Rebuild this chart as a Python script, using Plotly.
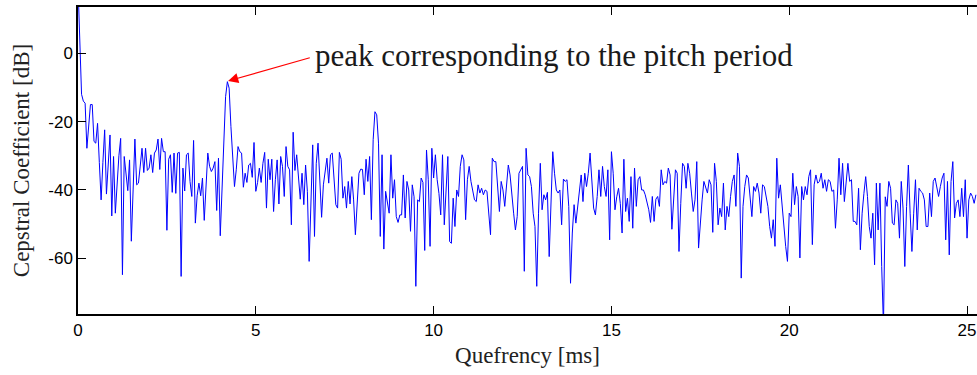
import plotly.graph_objects as go

# Quefrency sampling (ms per sample)
sample_step_ms = 0.05

cepstrum_db = [
    # 0.00 - 2.40 ms
    20, 0, -12, -14, -14.6, -27.8, -20, -15, -15, -25.8,
    -26.3, -20.5, -32, -42.9, -32, -22.4, -41.2, -32, -23.9, -47.6,
    -30.2, -46.8, -38, -30, -24.9, -64.8, -30.2, -36, -40.2, -31.2,
    -55, -40, -25.1, -38.5, -38, -33, -27.8, -34.9, -27.8, -34.3,
    -33.6, -29.7, -34.9, -29.2, -28.3, -25.1, -34, -24.9, -28.8,
    # 2.45 - 4.95 ms
    -28.8, -51.8, -31, -29.7, -40.7, -29.2, -41, -29.2, -29, -65.3,
    -33.6, -40.3, -29.7, -29.2, -37.5, -41.9, -25.5, -49.7, -41.7, -38,
    -41.7, -36.5, -48.9, -38.5, -29.2, -33.1, -34.6, -33.6, -31.7, -46,
    -30.7, -53.4, -38, -24, -12.7, -8.3, -10.2, -21.4, -30.2, -39,
    -34.1, -27.3, -28.8, -29.2, -39.2, -35.1, -37.8, -32.7, -32.2, -36.3,
    -26.1,
    # 5.00 - 7.50 ms
    -40.4, -37.8, -33.6, -37.8, -32.2, -29, -45.3, -31, -37, -31,
    -46.3, -37, -31.2, -44.1, -30.2, -33.1, -41.9, -27.3, -33.1, -34.1,
    -50.2, -23.1, -34.3, -29.7, -35.1, -42.7, -35.1, -44.3, -32.7, -40.4,
    -60.9, -45.3, -26.8, -53.6, -32.2, -26.3, -39, -48, -38.5, -33.6,
    -30.7, -38, -29.7, -29.2, -38.5, -44.3, -45.3, -29, -31, -42.4,
    -39,
    # 7.55 - 10.00 ms
    -45.3, -37.5, -44.1, -36.1, -42.9, -53.1, -42.7, -35.1, -33.9, -34,
    -41.4, -31, -37.5, -30.2, -48.7, -25.3, -17.1, -18, -26.3, -53.6,
    -29.7, -57.3, -40.4, -43.4, -46.8, -29.7, -42.4, -37, -47.8, -49.5,
    -47.3, -47.3, -35.6, -48.2, -37.5, -40, -52.1, -38.5, -42, -68.2,
    -42.9, -43.4, -36.5, -37.8, -57.7, -28.3, -37, -56.5, -27.8, -36.5,
    # 10.05 - 12.55 ms
    -29.7, -37, -41, -47.3, -29.7, -50.2, -38.5, -30.2, -55.1, -55.6,
    -42.4, -50.7, -40, -41.9, -33.1, -29.7, -31.2, -48.7, -37, -33.1,
    -37.5, -40, -42.9, -43.4, -38.5, -40.9, -39.5, -41.4, -40, -40.4,
    -46.8, -53.1, -30.7, -31.7, -31.7, -38.5, -46.3, -37.5, -40, -44.8,
    -37.5, -32.7, -35.6, -41.9, -46.8, -51.7, -47.8, -35.1, -34.1, -33.1,
    -63.8,
    # 12.60 - 15.05 ms
    -27.8, -35.6, -36.1, -39, -46.8, -50.7, -68.2, -46.8, -32.2, -45.8,
    -41.4, -42.9, -40.7, -59.5, -46.8, -28.8, -35.1, -40, -40.9, -40,
    -50.2, -36.8, -37.5, -37, -44.8, -67.3, -52.6, -44.3, -49.7, -44.8,
    -39, -35.6, -43.4, -35.1, -39, -35.1, -29.2, -37.5, -45.3, -47.3,
    -41.9, -34.1, -41.9, -33.1, -39, -41.9, -34.1, -54.6, -28.8, -35.1,
    # 15.10 - 17.60 ms
    -45.8, -42, -39.5, -44, -52.6, -31, -46.3, -42.4, -49.2, -36.1,
    -51.2, -33.6, -44.8, -37, -36.1, -40, -40, -41.4, -43.9, -45.8,
    -49.5, -41.9, -49.2, -42.7, -41.9, -44.8, -34.1, -38.5, -37.5, -38,
    -33.6, -35.6, -51.5, -40.9, -34.1, -35.1, -58, -43.9, -32.2, -33.1,
    -39.5, -32.2, -35.1, -40.9, -46.3, -42.9, -31.7, -57, -48.7, -42.9,
    -37.5,
    # 17.65 - 20.10 ms
    -39.5, -40.9, -37, -38.5, -52.4, -32.2, -37.5, -50.2, -45.3, -47.8,
    -38, -51.7, -44.8, -47.8, -41.9, -37.5, -35.6, -44.8, -29.2, -33.1,
    -65.8, -44.8, -39, -35.6, -36.5, -42.9, -47.8, -39, -40.4, -38,
    -40.9, -46.8, -38.5, -39, -41.9, -44.8, -50.7, -54.1, -48.7, -56.5,
    -30.7, -42.4, -38.5, -44.8, -50.2, -56.5, -60.9, -46.8, -47.8, -35.1,
    # 20.15 - 22.65 ms
    -44.3, -39, -41.9, -59.9, -39, -42.9, -39, -41.4, -36.1, -34.1,
    -56, -38.5, -35.6, -38, -37.5, -35.1, -39.5, -37, -40.4, -37,
    -37.5, -40.4, -40, -51.2, -42.9, -30.7, -41.4, -32.2, -43.4, -37.5,
    -32.2, -37.5, -37, -49.2, -49.2, -50.2, -39.5, -57.5, -46.8, -41,
    -36.1, -41.9, -50.7, -54.1, -46.8, -61.9, -38, -51.7, -38, -62.4,
    -80,
    # 22.70 - 25.25 ms
    -42, -44.8, -37.5, -39.5, -49.7, -50.2, -42.9, -43.9, -54.1, -37.5,
    -45.3, -62.4, -44.8, -32.7, -46.8, -58, -46.8, -37, -51.7, -39.5,
    -40.4, -40.9, -42.9, -50.7, -50.7, -40.9, -47.8, -37.5, -36.5, -39,
    -41.9, -39, -36.5, -35.1, -54.6, -37.5, -59, -37.5, -31.7, -48.2,
    -43.9, -42.9, -47.8, -39.5, -47.8, -37, -54.1, -42.9, -40.9, -41.9,
    -43.9, -41.4,
]
quefrency_ms = [i * sample_step_ms for i in range(len(cepstrum_db))]

x_tick_vals = [0, 5, 10, 15, 20, 25]
x_tick_text = ["0", "5", "10", "15", "20", "25"]
y_tick_vals = [-60, -40, -20, 0]
y_tick_text = ["-60", "-40", "-20", "0"]

x_range = [0, 25.28]
y_range = [-76.3, 13.55]

annotation_text = "peak corresponding to the pitch period"
peak_ms, peak_db = 4.2, -8.3

serif = "Liberation Serif, Times New Roman, serif"

fig = go.Figure()
fig.add_trace(go.Scatter(
    x=quefrency_ms, y=cepstrum_db, mode="lines",
    line=dict(color="#0000ff", width=1), hoverinfo="skip",
))

axis_common = dict(
    showgrid=False, zeroline=False, showline=True, linecolor="black",
    linewidth=1.5, ticks="inside", tickcolor="black", tickwidth=1,
    ticklen=8,
    tickfont=dict(family="Liberation Sans, Arial, sans-serif", size=17, color="black"),
)

fig.update_layout(
    width=977, height=375,
    margin=dict(l=78, r=0, t=7, b=61),
    paper_bgcolor="white", plot_bgcolor="white",
    showlegend=False,
    xaxis=dict(
        range=x_range, tickvals=x_tick_vals, ticktext=x_tick_text,
        mirror="ticks",
        title=dict(text="Quefrency [ms]", standoff=8,
                   font=dict(family=serif, size=23, color="#222")),
        **axis_common,
    ),
    yaxis=dict(
        range=y_range, tickvals=y_tick_vals, ticktext=y_tick_text,
        mirror=False,
        title=dict(text="Cepstral Coefficient [dB]", standoff=12,
                   font=dict(family=serif, size=23, color="#222")),
        **axis_common,
    ),
)

# arrow pointing at the pitch peak
fig.add_annotation(
    x=peak_ms + 0.02, y=peak_db + 0.2, xref="x", yref="y",
    ax=6.56, ay=-1.17, axref="x", ayref="y",
    text="", showarrow=True, arrowhead=2, arrowsize=1.7, arrowwidth=1.2,
    arrowcolor="#ff0000",
)
fig.add_annotation(
    x=6.62, y=-0.6, xref="x", yref="y", xanchor="left", yanchor="middle",
    text=annotation_text, showarrow=False,
    font=dict(family=serif, size=31, color="#1a1a1a"),
)

fig.write_html("out.html")
